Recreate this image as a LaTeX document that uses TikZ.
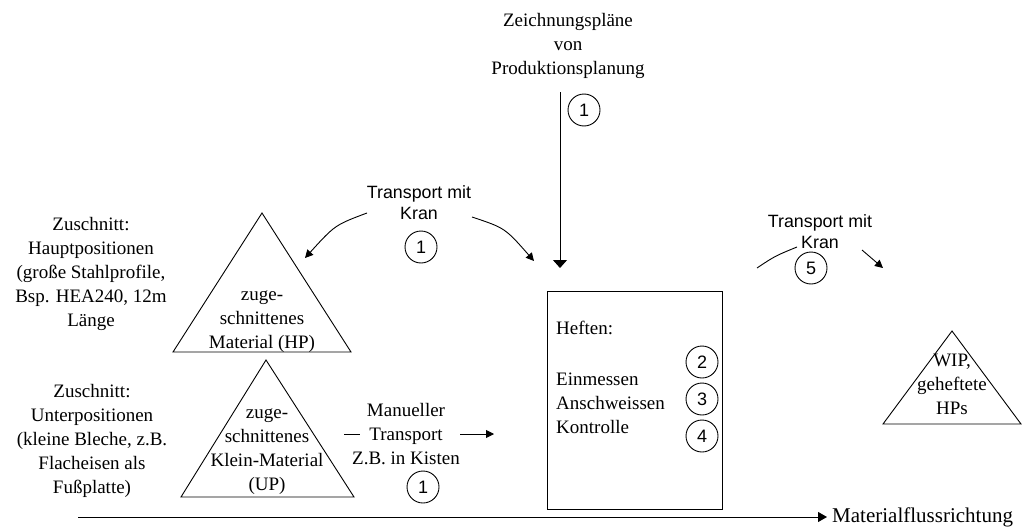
\documentclass[tikz,border=0pt]{standalone}
\usepackage{fontspec}
\setmainfont{Liberation Serif}
\newfontfamily\labelsans{Liberation Sans}
\usetikzlibrary{arrows.meta}

\begin{document}
\begin{tikzpicture}[x=1pt,y=-1pt,
  serif/.style={font=\fontsize{19}{24}\selectfont, align=center, inner sep=0pt},
  sanslbl/.style={font=\labelsans\fontsize{17.8}{21}\selectfont, align=center, inner sep=0pt},
  num/.style={draw, circle, minimum size=32pt, inner sep=0pt,
    font=\labelsans\fontsize{18}{20}\selectfont, line width=0.9pt},
  flow/.style={line width=0.9pt, -{Triangle[length=9pt,width=10pt]}},
  downflow/.style={line width=0.9pt, -{Triangle[length=8pt,width=14pt]}},
  smallflow/.style={line width=0.9pt, -{Triangle[length=8pt,width=8pt]}},
  plainline/.style={line width=0.9pt},
  stock/.style={line width=0.9pt}
]
\useasboundingbox (0,0) rectangle (1030,527);

% --- drawing plans from production planning
\node[serif] (plans) at (568,46) {Zeichnungspläne\\von\\Produktionsplanung};
\coordinate (planstart) at (560,92);
\coordinate (planend) at (560,268);
\draw[downflow] (planstart) -- (planend);
\node[num] (n1top) at (584,110) {1};

% --- main positions: cut material
\node[serif] (hpsrc) at (91,274) {Zuschnitt:\\Hauptpositionen\\(große Stahlprofile,\\Bsp. HEA240, 12m\\Länge};
\draw[stock] (173,352) -- (262,213) -- (351,352) -- cycle;
\node[serif] (hp) at (262,322) {zuge-\\schnittenes\\Material (HP)};

% --- crane transport to the tacking station
\node[sanslbl] (crane1) at (419,203) {Transport mit\\Kran};
\node[num] (n1crane) at (421,247) {1};
\coordinate (c1a) at (367,213);
\coordinate (c1b) at (305,258);
\coordinate (c1c) at (472,217);
\coordinate (c1d) at (534,261);
\draw[smallflow] (c1a) .. controls (335,225) .. (c1b);
\draw[smallflow] (c1c) .. controls (505,228) .. (c1d);

% --- sub positions: small cut material
\node[serif] (upsrc) at (92,441) {Zuschnitt:\\Unterpositionen\\(kleine Bleche, z.B.\\Flacheisen als\\Fußplatte)};
\draw[stock] (181,497) -- (266,360) -- (354,497) -- cycle;
\node[serif] (up) at (267,452) {zuge-\\schnittenes\\Klein-Material\\(UP)};

% --- manual transport
\node[serif] (manual) at (406,434) {Manueller\\Transport\\Z.B. in Kisten};
\node[num] (n1manual) at (423,487) {1};
\coordinate (m1) at (344,434);
\coordinate (m2) at (360,434);
\coordinate (m3) at (460,434);
\coordinate (m4) at (494,434);
\draw[plainline] (m1) -- (m2);
\draw[smallflow] (m3) -- (m4);

% --- tacking station
\node[draw, stock, minimum width=175pt, minimum height=218pt, inner sep=0pt]
  (station) at (634.5,400) {};
\node[serif, anchor=west] (heften) at (556,328) {Heften:};
\node[serif, align=left, anchor=west] (steps) at (556,403) {Einmessen\\Anschweissen\\Kontrolle};
\node[num] (n2) at (702,362) {2};
\node[num] (n3) at (702,399) {3};
\node[num] (n4) at (702,436) {4};

% --- crane transport to WIP
\node[sanslbl] (crane2) at (820,232) {Transport mit\\Kran};
\node[num] (n5) at (811,268) {5};
\coordinate (c2a) at (757,268);
\coordinate (c2b) at (797,247);
\coordinate (c2c) at (862,250);
\coordinate (c2d) at (883,268);
\draw[plainline] (c2a) .. controls (775,256) .. (c2b);
\draw[smallflow] (c2c) -- (c2d);

% --- work in progress
\draw[stock] (883,424) -- (952,331) -- (1021,424) -- cycle;
\node[serif] (wip) at (952,384) {WIP,\\geheftete\\HPs};

% --- material flow direction
\coordinate (flowstart) at (78,517);
\node[serif, font=\fontsize{21}{24}\selectfont, anchor=west] (flowlbl) at (832,517) {Materialflussrichtung};
\draw[flow] (flowstart) -- ([xshift=-5pt]flowlbl.west);
\end{tikzpicture}
\end{document}
